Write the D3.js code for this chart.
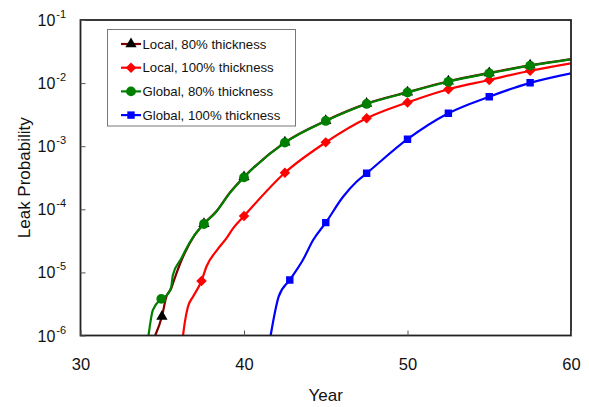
<!DOCTYPE html>
<html>
<head>
<meta charset="utf-8">
<script src="https://cdn.jsdelivr.net/npm/d3@7"></script>
<style>
  html, body { margin: 0; padding: 0; background: #fff; }
  svg { display: block; font-family: "Liberation Sans", Arial, sans-serif; }
</style>
</head>
<body>
<svg id="chart" width="589" height="407"></svg>
<script>
// ---- Data ----
const xTicks = [30, 40, 50, 60];
const yTickExps = [-6, -5, -4, -3, -2, -1];

const seriesNames = ["Local, 80% thickness", "Local, 100% thickness", "Global, 80% thickness", "Global, 100% thickness"];

const local80Years  = [34.57, 34.98, 35.25, 35.55, 35.76, 36.06, 36.37, 36.98, 37.55, 38.31, 39.12, 40, 42.5, 45, 47.5, 50, 52.5, 55, 57.5, 60];
const local80Values = [1.0e-6, 2.0e-6, 4.12e-6, 5.6e-6, 8.05e-6, 1.31e-5, 2.01e-5, 3.89e-5, 5.92e-5, 9.33e-5, 1.82e-4, 3.25e-4, 1.15e-3, 2.54e-3, 4.73e-3, 7.19e-3, 1.07e-2, 1.45e-2, 1.91e-2, 2.40e-2];
const local80Markers = [34.98, 37.55, 40, 42.5, 45, 47.5, 50, 52.5, 55, 57.5];

const local100Years  = [36.27, 36.37, 36.57, 36.88, 37.4, 37.7, 38.35, 38.92, 39.33, 40, 42.5, 45, 47.5, 50, 52.5, 55, 57.5, 60];
const local100Values = [1.0e-6, 1.56e-6, 2.86e-6, 4.12e-6, 7.31e-6, 1.23e-5, 2.26e-5, 3.45e-5, 5.0e-5, 7.83e-5, 3.80e-4, 1.15e-3, 2.77e-3, 4.93e-3, 7.98e-3, 1.12e-2, 1.57e-2, 2.06e-2];
const local100Markers = [37.4, 40, 42.5, 45, 47.5, 50, 52.5, 55, 57.5];

const global80Years  = [34.16, 34.43, 34.94, 35.35, 35.55, 35.65, 36.17, 36.37, 36.98, 37.55, 38.31, 39.12, 40, 42.5, 45, 47.5, 50, 52.5, 55, 57.5, 60];
const global80Values = [1.0e-6, 2.54e-6, 3.8e-6, 4.55e-6, 5.9e-6, 9.1e-6, 1.67e-5, 2.13e-5, 3.92e-5, 5.85e-5, 9.16e-5, 1.79e-4, 3.21e-4, 1.14e-3, 2.51e-3, 4.67e-3, 7.10e-3, 1.05e-2, 1.43e-2, 1.89e-2, 2.38e-2];
const global80Markers = [34.94, 37.55, 40, 42.5, 45, 47.5, 50, 52.5, 55, 57.5];

const global100Years  = [41.63, 42.12, 42.8, 43.6, 44.23, 45, 46.06, 46.88, 47.5, 50, 52.5, 55, 57.5, 60];
const global100Values = [1.0e-6, 4.12e-6, 7.59e-6, 1.57e-5, 3.26e-5, 6.14e-5, 1.58e-4, 2.74e-4, 3.72e-4, 1.29e-3, 3.32e-3, 6.08e-3, 1.01e-2, 1.43e-2];
const global100Markers = [42.8, 45, 47.5, 50, 52.5, 55, 57.5];

// ---- Layout ----
const svg = d3.select("#chart");
const margin = { left: 80.5, right: 571, top: 20, bottom: 335.5 };

const x = d3.scaleLinear().domain([30, 60]).range([margin.left, margin.right]);
const y = d3.scaleLog().domain([1e-6, 1e-1]).range([margin.bottom, margin.top]);

const series = [
  { name: seriesNames[0], years: local80Years,  values: local80Values,  markers: local80Markers,  line: "#800000", fill: "#000000", shape: "triangle" },
  { name: seriesNames[1], years: local100Years, values: local100Values, markers: local100Markers, line: "#ff0000", fill: "#ff0000", shape: "diamond" },
  { name: seriesNames[2], years: global80Years, values: global80Values, markers: global80Markers, line: "#008000", fill: "#008000", shape: "circle" },
  { name: seriesNames[3], years: global100Years,values: global100Values,markers: global100Markers,line: "#0000ff", fill: "#0000ff", shape: "square" }
];

const symbolFor = {
  triangle: d3.symbol().type(d3.symbolTriangle).size(55),
  diamond:  d3.symbol().type(d3.symbolDiamond2).size(70),
  circle:   d3.symbol().type(d3.symbolCircle).size(75),
  square:   d3.symbol().type(d3.symbolSquare).size(55)
};

svg.append("defs").append("clipPath").attr("id", "plotclip")
  .append("rect")
  .attr("x", margin.left).attr("y", margin.top)
  .attr("width", margin.right - margin.left).attr("height", margin.bottom - margin.top);

const plot = svg.append("g").attr("clip-path", "url(#plotclip)");

const lineGen = d3.line().x(d => x(d[0])).y(d => y(d[1])).curve(d3.curveMonotoneX);

series.forEach(s => {
  const pts = s.years.map((yr, i) => [yr, s.values[i]]);
  plot.append("path")
    .datum(pts)
    .attr("d", lineGen)
    .attr("fill", "none")
    .attr("stroke", s.line)
    .attr("stroke-width", 2.2)
    .attr("stroke-linejoin", "round");
  const mk = s.markers.map(m => pts[s.years.indexOf(m)]);
  plot.selectAll(null)
    .data(mk)
    .enter().append("path")
    .attr("d", symbolFor[s.shape])
    .attr("transform", d => `translate(${x(d[0])},${y(d[1])})`)
    .attr("fill", s.fill);
});

// ---- Axes frame ----
svg.append("rect")
  .attr("x", margin.left).attr("y", margin.top)
  .attr("width", margin.right - margin.left).attr("height", margin.bottom - margin.top)
  .attr("fill", "none").attr("stroke", "#222").attr("stroke-width", 1.8);

// x axis (ticks inward)
const xAxis = d3.axisBottom(x).tickValues(xTicks).tickSize(-5).tickPadding(23).tickFormat(d3.format("d"));
const gx = svg.append("g").attr("transform", `translate(0,${margin.bottom})`).call(xAxis);
gx.select(".domain").remove();
gx.selectAll(".tick line").attr("stroke", "#555").attr("stroke-width", 1);
gx.selectAll(".tick text").attr("font-size", 16.5).attr("fill", "#111")
  .attr("font-family", "'Liberation Sans', Arial, sans-serif");

// y axis (ticks inward), labels as 10^n
const yAxis = d3.axisLeft(y).tickValues(yTickExps.map(e => Math.pow(10, e))).tickSize(-5).tickFormat("");
const gy = svg.append("g").attr("transform", `translate(${margin.left},0)`).call(yAxis);
gy.select(".domain").remove();
gy.selectAll(".tick line").attr("stroke", "#555").attr("stroke-width", 1);

yTickExps.forEach(e => {
  const yy = y(Math.pow(10, e));
  const t = svg.append("text")
    .attr("x", 37.5).attr("y", yy + 6)
    .attr("font-size", 16).attr("fill", "#111");
  t.append("tspan").text("10");
  t.append("tspan").attr("font-size", 11).attr("dx", 1).attr("dy", -8).text("-" + Math.abs(e));
});

// axis titles
svg.append("text")
  .attr("x", (margin.left + margin.right) / 2).attr("y", 401)
  .attr("text-anchor", "middle").attr("font-size", 17).attr("fill", "#111")
  .text("Year");
svg.append("text")
  .attr("transform", `translate(30,${(margin.top + margin.bottom) / 2}) rotate(-90)`)
  .attr("text-anchor", "middle").attr("font-size", 17).attr("fill", "#111")
  .text("Leak Probability");

// ---- Legend ----
const lg = svg.append("g");
lg.append("rect")
  .attr("x", 107.5).attr("y", 29.5).attr("width", 188).attr("height", 96.5)
  .attr("fill", "#fff").attr("stroke", "#777").attr("stroke-width", 1);
series.forEach((s, i) => {
  const cy = 44 + i * 23.7;
  lg.append("line").attr("x1", 121).attr("x2", 141).attr("y1", cy).attr("y2", cy)
    .attr("stroke", s.line).attr("stroke-width", 2.2);
  lg.append("path").attr("d", symbolFor[s.shape])
    .attr("transform", `translate(131,${cy})`).attr("fill", s.fill);
  lg.append("text").attr("x", 142.5).attr("y", cy + 4.5)
    .attr("font-size", 13.2).attr("fill", "#111").text(s.name);
});
</script>
</body>
</html>
